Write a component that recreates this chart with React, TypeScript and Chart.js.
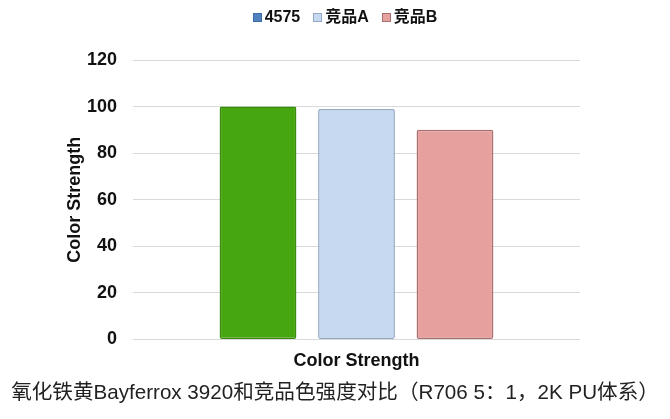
import { useEffect, useRef } from "react";
import { Chart, registerables, type ChartConfiguration } from "chart.js";

Chart.register(...registerables);

const categories = ["Color Strength"];
const seriesNames = ["4575", "竞品A", "竞品B"];
const values4575 = [100];
const valuesA = [99];
const valuesB = [90];
const yTicks = [0, 20, 40, 60, 80, 100, 120];

const CAPTION = "氧化铁黄Bayferrox 3920和竞品色强度对比（R706 5：1，2K PU体系）";

const BAR_FILL = ["#46a60f", "#c6d9f0", "#e6a19f"];
const BAR_EDGE = ["#3a8a12", "#93a8c4", "#a9706f"];
// legend swatch for 4575 is blue in the original, even though its bar is green
const LEGEND_FILL = ["#4f81bd", "#c6d9f0", "#e6a19f"];
const LEGEND_EDGE = ["#3b6ea8", "#93a8c4", "#a9706f"];

const FONT = "'Liberation Sans', Arial, 'Noto Sans CJK SC', sans-serif";

export default function App() {
  const canvasRef = useRef<HTMLCanvasElement>(null);
  const chartRef = useRef<Chart | null>(null);

  useEffect(() => {
    if (!canvasRef.current) return;
    chartRef.current?.destroy();

    const seriesValues = [values4575, valuesA, valuesB];

    const config: ChartConfiguration<"bar"> = {
      type: "bar",
      data: {
        labels: categories,
        datasets: seriesNames.map((name, i) => ({
          label: name,
          data: seriesValues[i],
          backgroundColor: BAR_FILL[i],
          borderColor: BAR_EDGE[i],
          borderWidth: 1.5,
          borderRadius: 2,
          borderSkipped: false,
          barPercentage: 0.78,
          categoryPercentage: 0.661,
        })),
      },
      options: {
        responsive: false,
        animation: false,
        layout: { padding: { left: 50, right: 90, top: 60, bottom: 44 } },
        plugins: {
          tooltip: { enabled: false },
          legend: { display: false },
        },
        scales: {
          x: {
            grid: { display: false },
            border: { display: false },
            ticks: {
              color: "#111",
              padding: 3,
              font: { family: FONT, size: 18, weight: "bold" },
            },
          },
          y: {
            min: 0,
            max: 120,
            afterBuildTicks: (axis) => {
              axis.ticks = yTicks.map((v) => ({ value: v }));
            },
            afterFit: (axis) => {
              axis.width = 83;
            },
            grid: { color: "#d9d9d9", lineWidth: 1, drawTicks: false },
            border: { display: false },
            ticks: {
              color: "#111",
              padding: 16,
              font: { family: FONT, size: 18, weight: "bold" },
            },
            title: {
              display: true,
              text: "Color Strength",
              color: "#111",
              padding: { top: 14, bottom: 1 },
              font: { family: FONT, size: 18, weight: "bold" },
            },
          },
        },
      },
    };

    chartRef.current = new Chart(canvasRef.current, config);

    return () => {
      chartRef.current?.destroy();
      chartRef.current = null;
    };
  }, []);

  return (
    <div
      style={{
        position: "absolute",
        left: 0,
        top: 0,
        width: 670,
        height: 419,
        background: "#fff",
        fontFamily: FONT,
      }}
    >
      <canvas ref={canvasRef} width={670} height={419} style={{ width: 670, height: 419 }} />

      {/* legend */}
      <div
        style={{
          position: "absolute",
          left: 0,
          top: 7,
          width: 690,
          display: "flex",
          justifyContent: "center",
          gap: 13,
          fontSize: 16,
          fontWeight: "bold",
          color: "#111",
          lineHeight: "20px",
        }}
      >
        {seriesNames.map((name, i) => (
          <div key={name} style={{ display: "flex", alignItems: "center", gap: 3 }}>
            <div
              style={{
                width: 7,
                height: 7,
                backgroundColor: LEGEND_FILL[i],
                border: `1px solid ${LEGEND_EDGE[i]}`,
              }}
            />
            {name}
          </div>
        ))}
      </div>

      {/* caption under the chart */}
      <div
        style={{
          position: "absolute",
          left: 0,
          top: 380,
          width: 670,
          textAlign: "center",
          fontSize: 20.6,
          color: "#222",
          whiteSpace: "nowrap",
          lineHeight: "24px",
        }}
      >
        {CAPTION}
      </div>
    </div>
  );
}
